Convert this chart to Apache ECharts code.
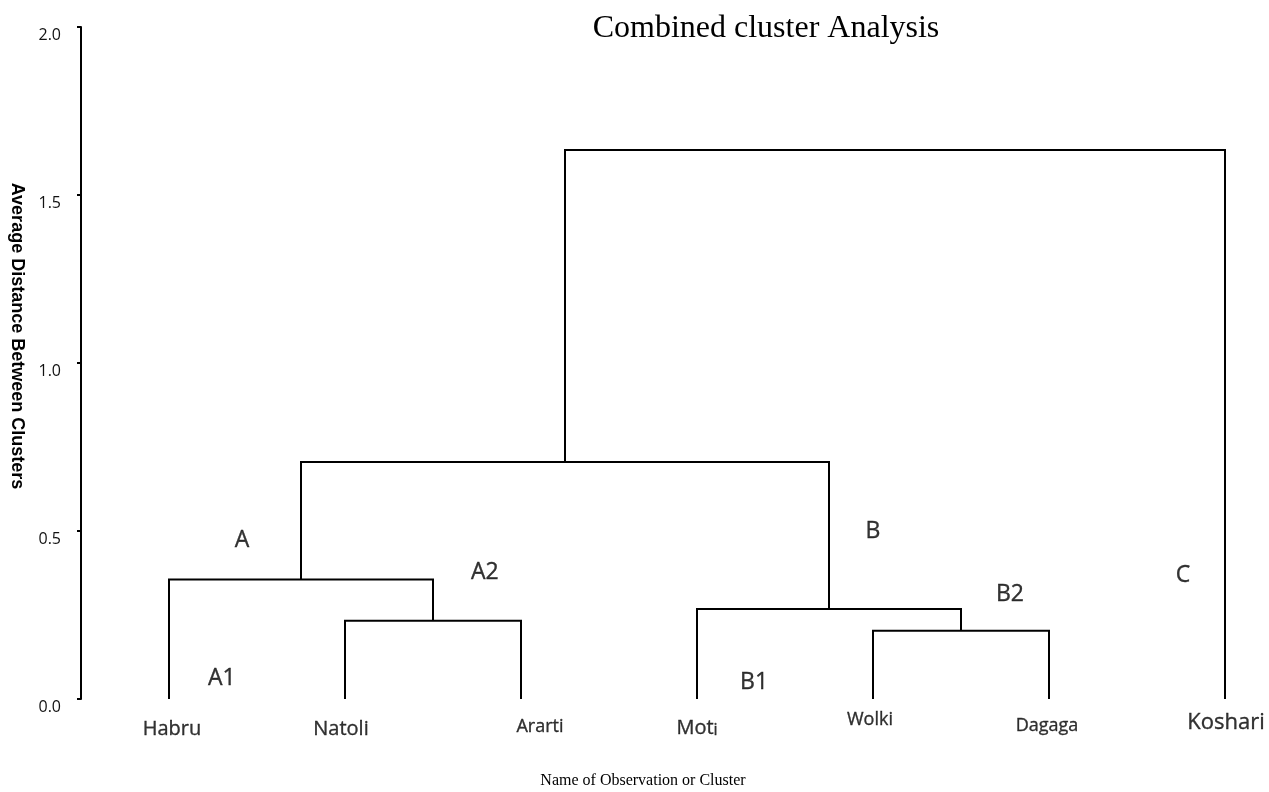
<!DOCTYPE html>
<html><head><meta charset="utf-8">
<script src="https://cdn.jsdelivr.net/npm/echarts@6/dist/echarts.min.js"></script>
<style>html,body{margin:0;padding:0;background:#fff}#c{width:1269px;height:792px}</style>
</head><body><div id="c"></div>
<script>
// ---- data ----
const leaves = ['Habru', 'Natoli', 'Ararti', 'Moti', 'Wolki', 'Dagaga', 'Koshari'];
// merges: [left node, right node, distance]; nodes 0..6 are leaves, 7.. are merges in order
const mergeLeft  = [1, 0, 4, 3, 8, 11];
const mergeRight = [2, 7, 5, 9, 10, 6];
const mergeDist  = [0.233, 0.356, 0.203, 0.268, 0.705, 1.634];
const clusterNames = ['A', 'A1', 'A2', 'B', 'B1', 'B2', 'C'];
const clusterX = [0.415, 0.30, 1.795, 4.0, 3.324, 4.778, 5.761];
const clusterY = [0.473, 0.060, 0.378, 0.50, 0.048, 0.310, 0.369];
const yTicks = [0, 0.5, 1.0, 1.5, 2.0];

// ---- build tree geometry ----
const nodeX = leaves.map((_, i) => i);
const nodeH = leaves.map(() => 0);
const links = [];
for (let k = 0; k < mergeDist.length; k++) {
  const l = mergeLeft[k], r = mergeRight[k], h = mergeDist[k];
  links.push([nodeX[l], nodeH[l], nodeX[r], nodeH[r], h]);
  nodeX.push((nodeX[l] + nodeX[r]) / 2);
  nodeH.push(h);
}

const leafLabelStyle = {
  Habru:   { dx: 3,  dy: 30, size: 20 },
  Natoli:  { dx: -4, dy: 30, size: 20 },
  Ararti:  { dx: 19, dy: 28, size: 18 },
  Moti:    { dx: 0,  dy: 29, size: 20 },
  Wolki:   { dx: -3, dy: 21, size: 18 },
  Dagaga:  { dx: -2, dy: 27, size: 18 },
  Koshari: { dx: 1,  dy: 24, size: 22 }
};

const sans = '"Open Sans", "Noto Sans", sans-serif';
const serif = '"Liberation Serif", "DejaVu Serif", serif';
const ink = { color: '#000', textBorderColor: '#000', textBorderWidth: 0.35 };

const chart = echarts.init(document.getElementById('c'), null, { renderer: 'canvas' });
chart.setOption({
  animation: false,
  backgroundColor: '#fff',
  grid: { left: 81, right: 0, top: 27, bottom: 93, containLabel: false },
  xAxis: { type: 'value', min: -0.5, max: 6.25, show: false },
  yAxis: {
    type: 'value', min: yTicks[0], max: yTicks[yTicks.length - 1], interval: 0.5,
    axisLine: { show: true, onZero: false, lineStyle: { color: '#000', width: 2 } },
    axisTick: { show: true, length: 4, lineStyle: { color: '#000', width: 2 } },
    splitLine: { show: false },
    axisLabel: {
      margin: 20, color: '#111', fontSize: 16, fontFamily: sans,
      verticalAlign: 'top',
      formatter: v => v.toFixed(1)
    }
  },
  graphic: [
    { type: 'text', x: 766, y: 29, style: { text: 'Combined cluster Analysis', fontSize: 32, fontFamily: serif, fill: '#000', align: 'center', verticalAlign: 'middle' } },
    { type: 'text', x: 643, y: 781, style: { text: 'Name of Observation or Cluster', fontSize: 16, fontFamily: serif, fill: '#000', align: 'center', verticalAlign: 'middle' } },
    { type: 'text', x: 17, y: 336, rotation: -Math.PI / 2, style: { text: 'Average Distance Between Clusters', fontSize: 18, fontWeight: 'bold', fontFamily: '"Liberation Sans", Arial, sans-serif', fill: '#000', align: 'center', verticalAlign: 'middle' } }
  ],
  series: [
    {
      type: 'custom',
      data: links,
      encode: { x: [0, 2], y: [1, 3, 4] },
      renderItem: function (params, api) {
        const p1 = api.coord([api.value(0), api.value(1)]);
        const p2 = api.coord([api.value(0), api.value(4)]);
        const p3 = api.coord([api.value(2), api.value(4)]);
        const p4 = api.coord([api.value(2), api.value(3)]);
        return { type: 'polyline', shape: { points: [p1, p2, p3, p4] }, style: { stroke: '#000', lineWidth: 2, fill: null } };
      },
      silent: true
    },
    {
      type: 'scatter',
      symbolSize: 0,
      silent: true,
      data: leaves.map((name, i) => {
        const s = leafLabelStyle[name];
        return {
          value: [i, 0], name: name,
          label: Object.assign({
            show: true, position: 'inside', offset: [s.dx, s.dy],
            align: 'center', verticalAlign: 'middle',
            fontSize: s.size, fontFamily: sans,
            formatter: name === 'Moti' ? '{a|Mot}{b|i}' : name,
            rich: name === 'Moti' ? {
              a: Object.assign({ fontSize: 20, fontFamily: sans, verticalAlign: 'bottom' }, ink),
              b: Object.assign({ fontSize: 16, fontFamily: sans, verticalAlign: 'bottom' }, ink)
            } : undefined
          }, ink)
        };
      })
    },
    {
      type: 'scatter',
      symbolSize: 0,
      silent: true,
      data: clusterNames.map((n, i) => ({ value: [clusterX[i], clusterY[i]], name: n })),
      label: Object.assign({ show: true, position: 'inside', formatter: '{b}', fontSize: 23, fontFamily: sans }, ink)
    }
  ]
});
</script>
</body></html>
